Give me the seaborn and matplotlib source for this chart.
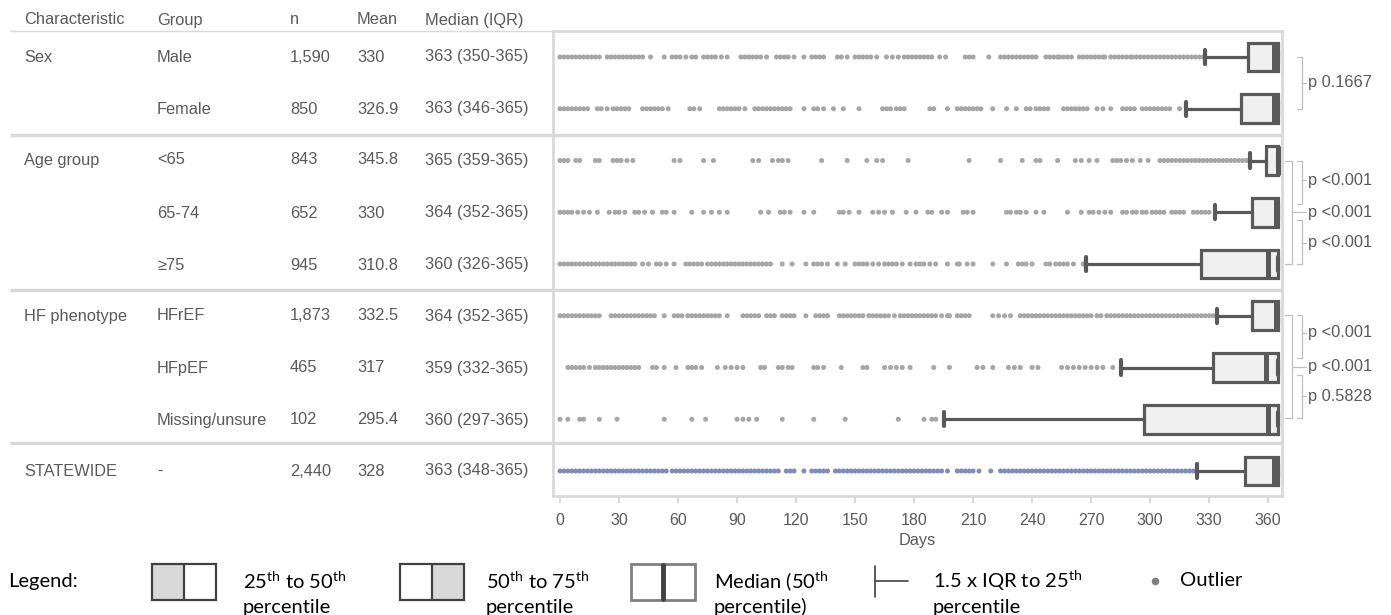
import matplotlib
matplotlib.use("Agg")
import matplotlib.pyplot as plt
from matplotlib.patches import Rectangle
import pandas as pd
import seaborn as sns

# ---------------- data ----------------
characteristics = ["Sex", "", "Age group", "", "", "HF phenotype", "", "", "STATEWIDE"]
groups = ["Male", "Female", "<65", "65-74", "\u226575", "HFrEF", "HFpEF", "Missing/unsure", "-"]
n_vals = ["1,590", "850", "843", "652", "945", "1,873", "465", "102", "2,440"]
means = ["330", "326.9", "345.8", "330", "310.8", "332.5", "317", "295.4", "328"]
medians = [363, 363, 365, 364, 360, 364, 359, 360, 363]
q1 = [350, 346, 359, 352, 326, 352, 332, 297, 348]
q3 = [365, 365, 365, 365, 365, 365, 365, 365, 365]
whisker_low = [328, 318, 351, 333, 267.5, 334, 285, 195, 324]
x_ticks = [0, 30, 60, 90, 120, 150, 180, 210, 240, 270, 300, 330, 360]

male_out = [0, 2, 4, 6, 8, 10, 12, 14, 16, 18, 20, 24, 26, 28, 30, 32, 34, 36, 38, 40, 42,
            46, 53, 57, 59, 61, 64, 67, 69, 73, 75, 77, 79, 82, 85, 92, 94, 96, 98, 100, 102, 105,
            110, 112, 114, 116, 119, 124, 128, 130, 132, 134, 141, 143, 146, 150, 152, 154, 156,
            158, 161, 166, 169, 172, 175, 177, 179, 181, 183, 185, 187, 189, 193, 196, 206, 208,
            210, 218, 224, 226, 228, 230, 232, 234, 236, 238, 240, 242, 247, 249, 251, 253, 254,
            256, 258, 260, 264, 266, 268, 270, 272, 274, 276, 277, 280, 282, 284, 286, 288, 290,
            291, 293, 295, 297, 299, 301, 303, 305, 307, 309, 311, 313, 315, 317, 319, 321, 323,
            325, 327]
female_out = [0, 2, 4, 6, 8, 10, 12, 14, 19, 21, 24, 27, 29, 31, 33, 35, 42, 44, 46, 48, 50, 52,
              55, 66, 68, 71, 81, 83, 85, 87, 89, 91, 94, 99, 101, 103, 105, 107, 109, 111, 113,
              115, 117, 124, 129, 131, 134, 139, 144, 152, 164, 166, 168, 171, 173, 175, 188, 190,
              197, 202, 204, 206, 208, 210, 212, 214, 220, 227, 232, 237, 239, 242, 244, 246, 248,
              256, 258, 260, 262, 264, 266, 268, 273, 276, 280, 286, 288, 290, 292, 296, 298, 300,
              302, 304, 306, 308, 310, 315]
lt65_out = [0, 2, 4, 8, 10, 18, 20, 27, 29, 31, 34, 37, 58, 61, 73, 78, 98, 101, 108, 111, 113,
            116, 133, 146, 156, 161, 164, 177, 208, 224, 235, 242, 244, 253, 262, 265, 269, 273,
            281, 283, 285, 288, 291, 295, 299, 305, 307, 309, 311, 313, 315, 317, 319, 321, 323,
            325, 327, 329, 331, 333, 335, 337, 339, 341, 343, 345, 347, 349]
a6574_out = [0, 2, 4, 6, 9, 12, 15, 19, 25, 28, 30, 33, 38, 40, 43, 47, 52, 54, 58, 67, 73, 77,
             81, 85, 102, 106, 112, 114, 117, 124, 129, 142, 144, 147, 152, 159, 162, 165, 169,
             176, 181, 187, 189, 194, 197, 205, 207, 210, 227, 229, 232, 234, 237, 242, 246, 258,
             265, 269, 271, 274, 277, 280, 286, 288, 291, 293, 296, 298, 301, 303, 305, 307, 311,
             313, 315, 317, 322, 324, 326, 328, 330]
ge75_out = [0, 2, 4, 6, 8, 10, 12, 14, 16, 18, 20, 22, 24, 26, 28, 30, 32, 34, 36, 38, 42, 45,
            49, 51, 54, 58, 64, 66, 68, 70, 72, 75, 77, 79, 81, 83, 85, 87, 89, 91, 93, 95, 97, 99,
            101, 103, 105, 107, 113, 118, 125, 129, 131, 133, 136, 141, 145, 150, 152, 154, 156,
            159, 162, 165, 167, 169, 171, 174, 178, 181, 183, 185, 188, 191, 197, 202, 203, 207,
            210, 220, 227, 233, 235, 237, 240, 247, 249, 252, 254, 256, 258, 261, 266]
hfref_out = [0, 2, 4, 6, 8, 10, 12, 14, 16, 18, 20, 26, 28, 30, 32, 34, 36, 38, 40, 42, 44, 46,
             48, 53, 58, 60, 62, 65, 67, 69, 71, 73, 75, 77, 79, 81, 85, 93, 95, 97, 99, 101, 105,
             107, 109, 113, 115, 117, 119, 125, 130, 132, 134, 136, 142, 144, 146, 148, 150, 152,
             154, 157, 159, 161, 163, 165, 167, 170, 173, 175, 177, 179, 181, 183, 185, 187, 189,
             191, 194, 197, 198, 202, 204, 206, 208, 220, 223, 226, 229, 234, 236, 238, 240, 242,
             244, 246, 248, 250, 252, 254, 256, 258, 260, 262, 264, 266, 268, 270, 273, 275, 278,
             280, 282, 284, 286, 288, 290, 292, 294, 296, 298, 300, 302, 304, 306, 308, 310, 312,
             314, 316, 318, 320, 322, 324, 326, 328, 330, 332, 334]
hfpef_out = [4, 6, 8, 10, 12, 15, 18, 20, 22, 24, 26, 28, 30, 32, 34, 36, 38, 40, 47, 49, 53, 59,
             65, 67, 69, 72, 80, 84, 87, 90, 93, 102, 104, 111, 113, 116, 118, 129, 131, 134, 143,
             154, 156, 165, 168, 171, 174, 178, 190, 198, 212, 215, 220, 228, 231, 234, 240, 243,
             255, 258, 261, 264, 267, 270, 273, 276, 281]
missing_out = [0, 4, 10, 12, 20, 29, 53, 67, 74, 90, 93, 96, 100, 113, 129, 145, 172, 185, 189, 191]
state_out = [0, 2, 4, 6, 8, 10, 12, 14, 16, 18, 20, 22, 24, 26, 28, 30, 32, 34, 36, 38, 40, 42,
             44, 46, 48, 50, 52, 54, 57, 59, 61, 63, 65, 67, 69, 71, 73, 75, 77, 79, 81, 83, 85,
             87, 89, 91, 93, 95, 97, 99, 101, 103, 105, 107, 109, 111, 115, 117, 119, 124, 128,
             130, 132, 134, 136, 140, 142, 144, 146, 148, 150, 152, 154, 156, 158, 160, 162, 164,
             166, 168, 170, 172, 174, 176, 178, 180, 182, 184, 186, 188, 190, 192, 194, 197, 202,
             204, 206, 208, 210, 213, 219, 224, 226, 228, 230, 232, 234, 236, 238, 240, 242, 244,
             246, 248, 250, 252, 254, 256, 258, 260, 262, 264, 266, 268, 270, 272, 274, 276, 278,
             280, 282, 284, 286, 288, 290, 292, 294, 296, 298, 300, 302, 304, 306, 308, 310, 312,
             314, 316, 318, 320, 322]
outliers = [male_out, female_out, lt65_out, a6574_out, ge75_out, hfref_out, hfpef_out,
            missing_out, state_out]

p_texts = ["p 0.1667", "p <0.001", "p <0.001", "p <0.001", "p <0.001", "p <0.001", "p 0.5828"]

# ---------------- style ----------------
sns.set_style("white")
plt.rcParams["font.family"] = ["Liberation Sans", "DejaVu Sans"]
plt.rcParams["mathtext.fontset"] = "custom"
plt.rcParams["mathtext.rm"] = "Lato"
plt.rcParams["mathtext.it"] = "Lato:italic"
plt.rcParams["mathtext.bf"] = "Lato:bold"

W, H = 1391, 615
fig = plt.figure(figsize=(W / 100, H / 100), dpi=100)
fig.patch.set_facecolor("white")

# main plotting axes in pixel placement
L, R, T, B = 553, 1282, 31, 496
ax = fig.add_axes([L / W, (H - B) / H, (R - L) / W, (B - T) / H])

rows = []
for i, vals in enumerate(outliers):
    kind = "total" if i == 8 else "group"
    for v in vals:
        rows.append({"row": i, "days": v, "kind": kind})
df = pd.DataFrame(rows)

sns.scatterplot(data=df, x="days", y="row", hue="kind",
                palette={"group": "#a6a6a6", "total": "#7d8db8"},
                s=13, linewidth=0, legend=False, ax=ax, zorder=2)

stats = [dict(med=medians[i], q1=q1[i], q3=q3[i], whislo=whisker_low[i], whishi=q3[i], fliers=[])
         for i in range(len(groups))]
edge = "#595959"
bxp_kw = dict(positions=list(range(len(groups))), widths=0.56, patch_artist=True,
              showfliers=False, manage_ticks=False, capwidths=0.28,
              boxprops=dict(facecolor="#f0f0f0", edgecolor=edge, linewidth=2.3, zorder=3),
              medianprops=dict(color=edge, linewidth=3.6, zorder=4, solid_capstyle="butt"),
              whiskerprops=dict(color=edge, linewidth=2.3, zorder=3),
              capprops=dict(color=edge, linewidth=3.0, zorder=4))
try:
    ax.bxp(stats, orientation="horizontal", **bxp_kw)
except TypeError:
    ax.bxp(stats, vert=False, **bxp_kw)

x0 = (L - 560) / 1.967
x1 = (R - 560) / 1.967
ax.set_xlim(x0, x1)
ax.set_ylim((B - 57) / 51.75, (T - 57) / 51.75)
ax.set_xticks(x_ticks)
ax.set_xticklabels([str(t) for t in x_ticks])
ax.set_yticks([])
ax.set_xlabel("")
ax.set_ylabel("")
for sp in ax.spines.values():
    sp.set_visible(True)
    sp.set_color("#d9d9d9")
    sp.set_linewidth(2)
ax.tick_params(axis="x", bottom=True, length=5, width=1.5, color="#d9d9d9",
               labelsize=11.5, labelcolor="#595959", pad=7)

# ---------------- overlay (pixel coordinates) ----------------
ov = fig.add_axes([0, 0, 1, 1], zorder=5)
ov.set_xlim(0, W)
ov.set_ylim(H, 0)
ov.axis("off")
ov.patch.set_alpha(0)

grey_txt = "#595959"
tfs = 11.8
row_y = [57, 109, 160, 213, 265, 316, 368, 420, 471]
cols_x = [24, 157, 290, 357, 425]
headers = ["Characteristic", "Group", "n", "Mean", "Median (IQR)"]
for x, h in zip(cols_x, headers):
    ov.text(x, 20, h, fontsize=tfs, color=grey_txt, va="center", ha="left")
for i, y in enumerate(row_y):
    med_txt = f"{medians[i]} ({q1[i]}-{q3[i]})"
    for x, t in zip(cols_x, [characteristics[i], groups[i], n_vals[i], means[i], med_txt]):
        ov.text(x, y, t, fontsize=tfs, color=grey_txt, va="center", ha="left")

ov.plot([10, L], [31, 31], color="#d9d9d9", lw=1.0)
for y in [134.5, 289.5, 442.5]:
    ov.plot([10, R + 1], [y, y], color="#d9d9d9", lw=2.5, solid_capstyle="butt")

ov.text((L + R) / 2, 541, "Days", fontsize=11.8, color=grey_txt, ha="center", va="center")

# brackets for p-values
bc = "#bfbfbf"
blw = 0.9


def bracket(xa, xb, ya, yb, ytick, xtick_end):
    ov.plot([xa, xb, xb, xa], [ya, ya, yb, yb], color=bc, lw=blw)
    ov.plot([xb, xtick_end], [ytick, ytick], color=bc, lw=blw)


bracket(1297, 1302, 57, 109, 83, 1306)
bracket(1297, 1302, 161, 204, 180, 1306)
bracket(1285, 1292, 161, 264, 212, 1306)
bracket(1297, 1302, 220, 264, 243, 1306)
bracket(1297, 1302, 315, 358, 333, 1306)
bracket(1285, 1292, 315, 418, 367, 1306)
bracket(1297, 1302, 375, 418, 396, 1306)
for t, y in zip(p_texts, [83, 180, 212, 243, 333, 367, 396]):
    ov.text(1308, y, t, fontsize=11.8, color=grey_txt, ha="left", va="center")

# ---------------- legend ----------------
lf = dict(family=["Lato", "DejaVu Sans"], fontsize=14.5, color="#000000", va="center", ha="left")
ly1, ly2 = 581, 607
ov.text(8, ly1, "Legend:", **lf)

by, bh, bw = 564, 36, 64
# box 1: 25th-50th
ov.add_patch(Rectangle((152, by), bw / 2, bh, facecolor="#d9d9d9", edgecolor="none"))
ov.add_patch(Rectangle((152, by), bw, bh, facecolor="none", edgecolor="#404040", lw=1.6))
ov.plot([152 + bw / 2] * 2, [by, by + bh], color="#404040", lw=1.6)
ov.text(243, ly1, r"25$^{\rm th}$ to 50$^{\rm th}$", **lf)
ov.text(243, ly2, "percentile", **lf)
# box 2: 50th-75th
ov.add_patch(Rectangle((400 + bw / 2, by), bw / 2, bh, facecolor="#d9d9d9", edgecolor="none"))
ov.add_patch(Rectangle((400, by), bw, bh, facecolor="none", edgecolor="#404040", lw=1.6))
ov.plot([400 + bw / 2] * 2, [by, by + bh], color="#404040", lw=1.6)
ov.text(486, ly1, r"50$^{\rm th}$ to 75$^{\rm th}$", **lf)
ov.text(486, ly2, "percentile", **lf)
# box 3: median
ov.add_patch(Rectangle((631, by), bw, bh, facecolor="white", edgecolor="#808080", lw=2.0))
ov.plot([631 + bw / 2] * 2, [by + 1, by + bh - 1], color="#404040", lw=3.5)
ov.text(714, ly1, r"Median (50$^{\rm th}$", **lf)
ov.text(714, ly2, "percentile)", **lf)
# whisker symbol
ov.plot([875, 875], [566, 597], color="#404040", lw=1.2)
ov.plot([875, 908], [581, 581], color="#404040", lw=1.2)
ov.text(933, ly1, r"1.5 x IQR to 25$^{\rm th}$", **lf)
ov.text(933, ly2, "percentile", **lf)
# outlier
ov.scatter([1155], [581], s=30, color="#808080", linewidths=0)
ov.text(1180, ly1, "Outlier", **lf)

fig.savefig("out.png", dpi=100, facecolor="white")
